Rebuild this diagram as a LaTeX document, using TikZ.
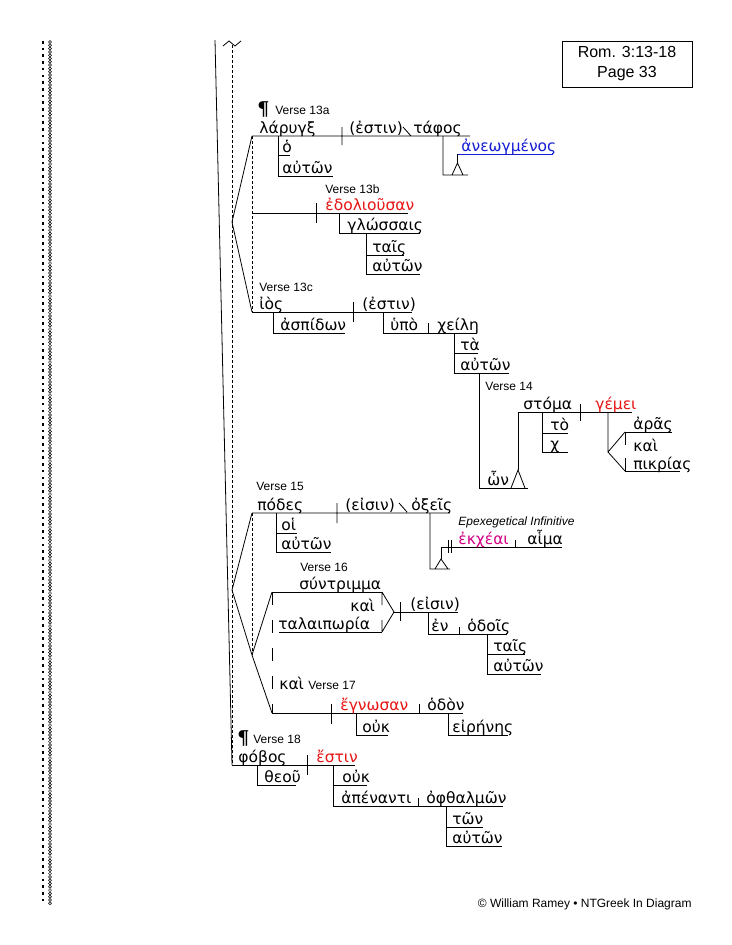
\documentclass[tikz,border=0pt]{standalone}
\usepackage{fontspec}
\setmainfont{Liberation Sans}
\newfontfamily\gkfont{DejaVu Sans}
\newfontfamily\pilfont{DejaVu Serif}
\definecolor{verbred}{RGB}{230,20,20}
\definecolor{ptcblue}{RGB}{20,30,210}
\definecolor{infmag}{RGB}{210,0,130}

\begin{document}
\begin{tikzpicture}[x=1pt, y=-1pt, line width=0.8pt,
		gk/.style={anchor=base west, inner sep=0pt, font=\gkfont\fontsize{15.5}{17}\selectfont},
		vrb/.style={gk, text=verbred},
		vs/.style={anchor=base west, inner sep=0pt, font=\fontsize{12}{14}\selectfont},
		para/.style={anchor=base west, inner sep=0pt, font=\pilfont\bfseries\fontsize{19}{20}\selectfont},
		shortdash/.style={line width=0.6pt, dash pattern=on 3pt off 2pt},
		longdash/.style={dash pattern=on 13pt off 15pt}]

	\useasboundingbox (0,0) rectangle (731,945);

	\foreach \y in {41,47.7,...,905}
		\fill (41.5,\y) rectangle ++(2.6,2.6);
	\foreach \y in {42,45.3,...,906}
		\draw[line width=0.5pt] (50,\y) circle (1.5pt);

	\node[draw, minimum width=130pt, minimum height=46pt, align=center, font=\fontsize{16}{20}\selectfont] (page) at (627,64) {Rom. 3:13-18\\Page 33};

	\draw (215,40) -- (232,765);
	\draw[shortdash] (232,45) -- (232,765);
	\draw (223,46) -- (229,41) -- (235,46) -- (241,41);

	\node[para] (p13) at (257,115) {¶};
	\node[vs] (v13a) at (275,114) {Verse 13a};
	\draw (252,136) -- (470,136) (342,127) -- (342,145) (403,127) -- (411,136);
	\node[gk] (larygx) at (259,133) {λάρυγξ};
	\node[gk] (estin1) at (349,133) {(ἐστιν)};
	\node[gk] (tafos) at (413,133) {τάφος};
	\draw (278,136) -- (278,176) -- (333,176) (278,155) -- (290,155);
	\node[gk] (ho) at (282,152) {ὁ};
	\node[gk] (auton1) at (282,173) {αὐτῶν};
	\draw (443,136) -- (443,175) -- (468,175) (452,175) -- (457.5,163) -- (463,175);
	\draw (457.5,163) -- (457.5,154);
	\draw[ptcblue] (457.5,154) -- (553,154);
	\node[gk, text=ptcblue] (anewgm) at (461,151) {ἀνεωγμένος};

	\draw (252,136) -- (232,222) -- (252,312);
	\draw[shortdash] (252,136) -- (252,312);

	\node[vs] (v13b) at (325,193) {Verse 13b};
	\draw (252,213) -- (408,213) (316,203) -- (316,223);
	\node[vrb] (edol) at (325,210) {ἐδολιοῦσαν};
	\draw (339,213) -- (339,233) -- (420,233);
	\node[gk] (glwss) at (347,230) {γλώσσαις};
	\draw (366,233) -- (366,274) -- (420,274) (366,255) -- (404,255);
	\node[gk] (tais1) at (372,252) {ταῖς};
	\node[gk] (auton2) at (372,271) {αὐτῶν};

	\node[vs] (v13c) at (259,291) {Verse 13c};
	\draw (252,312) -- (412,312) (353,302) -- (353,322);
	\node[gk] (ios) at (259,309) {ἰὸς};
	\node[gk] (estin2) at (362,309) {(ἐστιν)};
	\draw (273,312) -- (273,333) -- (345,333);
	\node[gk] (aspid) at (280,330) {ἀσπίδων};
	\draw (383,312) -- (383,333) -- (477,333) (428,323) -- (428,333);
	\node[gk] (hypo) at (390,330) {ὑπὸ};
	\node[gk] (xeilh) at (437,330) {χείλη};
	\draw (454,333) -- (454,373) -- (509,373) (454,353) -- (478,353);
	\node[gk] (ta) at (460,350) {τὰ};
	\node[gk] (auton3) at (460,370) {αὐτῶν};

	\node[vs] (v14) at (485,390) {Verse 14};
	\draw (479,373) -- (479,488) -- (528,488);
	\node[gk] (hwn) at (487,485) {ὧν};
	\draw (511,488) -- (518,470) -- (525,488);
	\draw (518,470) -- (518,412) -- (632,412) (580,404) -- (580,421);
	\node[gk] (stoma) at (523,409) {στόμα};
	\node[vrb] (gemei) at (595,409) {γέμει};
	\draw (542,412) -- (542,452) -- (568,452) (542,433) -- (568,433);
	\node[gk] (to) at (550,430) {τὸ};
	\node[gk] (chi) at (550,449) {χ};
	\draw (608,412) -- (608,452) (625,432) -- (608,452) -- (625,471);
	\draw (625,432) -- (672,432) (625,471) -- (680,471) (625,432) -- (625,445) (625,458) -- (625,471);
	\node[gk] (aras) at (633,429) {ἀρᾶς};
	\node[gk] (kai1) at (633,451) {καὶ};
	\node[gk] (pikr) at (633,469) {πικρίας};

	\node[vs] (v15) at (256,490) {Verse 15};
	\draw (252,513) -- (450,513) (337,503) -- (337,523) (399,503) -- (407,512);
	\node[gk] (podes) at (257,510) {πόδες};
	\node[gk] (eisin1) at (345,510) {(εἰσιν)};
	\node[gk] (oxeis) at (411,510) {ὀξεῖς};
	\draw (276,513) -- (276,552) -- (331,552) (276,533) -- (297,533);
	\node[gk] (hoi) at (281,530) {οἱ};
	\node[gk] (auton4) at (281,549) {αὐτῶν};
	\draw (430,513) -- (430,569) -- (450,569) (435,569) -- (441,559) -- (448,569);
	\draw (441,559) -- (441,547) -- (562,547) (448,540) -- (448,553) (451,540) -- (451,553) (515,540) -- (515,547);
	\node[vs, font=\itshape\fontsize{12}{14}\selectfont] (epex) at (458,525) {Epexegetical Infinitive};
	\node[gk, text=infmag] (ekxeai) at (458,544) {ἐκχέαι};
	\node[gk] (haima) at (527,544) {αἷμα};

	\draw (252,513) -- (232,590) -- (252,655) -- (272,592) (252,655) -- (272,713);
	\draw[shortdash] (252,513) -- (252,655);
	\draw[longdash] (272,592) -- (272,713);

	\node[vs] (v16) at (300,571) {Verse 16};
	\draw (272,592) -- (382,592) (279,632) -- (382,632);
	\node[gk] (syntr) at (299,589) {σύντριμμα};
	\node[gk] (kai2) at (350,611) {καὶ};
	\node[gk] (talai) at (278,629) {ταλαιπωρία};
	\draw (382,592) -- (382,605) (382,620) -- (382,632) (382,592) -- (394,612) -- (382,632);
	\draw (394,612) -- (458,612) (400,602) -- (400,621);
	\node[gk] (eisin2) at (410,609) {(εἰσιν)};
	\draw (428,612) -- (428,634) -- (507,634) (459,627) -- (459,634);
	\node[gk] (en) at (431,631) {ἐν};
	\node[gk] (hodois) at (467,631) {ὁδοῖς};
	\draw (487,634) -- (487,674) -- (541,674) (487,654) -- (525,654);
	\node[gk] (tais2) at (493,651) {ταῖς};
	\node[gk] (auton5) at (493,671) {αὐτῶν};

	\node[gk] (kai3) at (279,689) {καὶ};
	\node[vs] (v17) at (308,689) {Verse 17};
	\draw (272,713) -- (463,713) (331,704) -- (331,724) (419,704) -- (419,713);
	\node[vrb] (egnwsan) at (340,710) {ἔγνωσαν};
	\node[gk] (hodon) at (427,710) {ὁδὸν};
	\draw (356,713) -- (356,735) -- (388,735) (448,713) -- (448,735) -- (508,735);
	\node[gk] (ouk1) at (362,732) {οὐκ};
	\node[gk] (eirhnhs) at (452,732) {εἰρήνης};

	\node[para] (p18) at (237,744) {¶};
	\node[vs] (v18) at (253,743) {Verse 18};
	\draw (232,765) -- (355,765) (307,755) -- (307,775);
	\node[gk] (fobos) at (238,762) {φόβος};
	\node[vrb] (estin3) at (316,762) {ἔστιν};
	\draw (257,765) -- (257,785) -- (296,785);
	\node[gk] (theou) at (264,782) {θεοῦ};
	\draw (333,765) -- (333,806) -- (503,806) (333,785) -- (367,785) (418,798) -- (418,806);
	\node[gk] (ouk2) at (342,782) {οὐκ};
	\node[gk] (apenanti) at (341,803) {ἀπέναντι};
	\node[gk] (ofthalm) at (426,803) {ὀφθαλμῶν};
	\draw (446,806) -- (446,846) -- (502,846) (446,827) -- (483,827);
	\node[gk] (twn) at (452,824) {τῶν};
	\node[gk] (auton6) at (452,843) {αὐτῶν};

	\node[vs, anchor=base east] (credit) at (692,907) {© William Ramey • NTGreek In Diagram};
\end{tikzpicture}
\end{document}
